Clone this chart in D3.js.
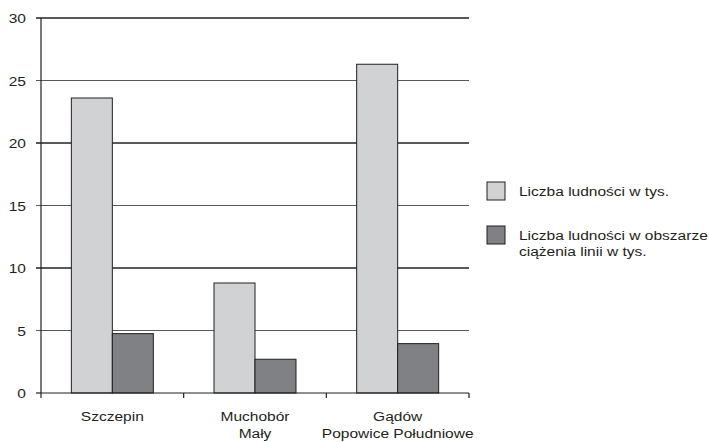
<!DOCTYPE html>
<html><head><meta charset="utf-8">
<script src="https://cdn.jsdelivr.net/npm/d3@7"></script>
<style>html,body{margin:0;padding:0;background:#fff;}svg{display:block;}</style>
</head><body>
<svg id="c" width="709" height="442"></svg>
<script>
const categories = [["Szczepin"], ["Muchobór", "Mały"], ["Gądów", "Popowice Południowe"]];
const seriesNames = [["Liczba ludności w tys."], ["Liczba ludności w obszarze", "ciążenia linii w tys."]];
const populationTotal = [23.6, 8.8, 26.3];
const populationCatchment = [4.75, 2.7, 3.95];
const yTicks = [0, 5, 10, 15, 20, 25, 30];
const colors = ["#d1d2d4", "#808184"];

const svg = d3.select("#c");
const font = "'Liberation Sans', Arial, sans-serif";
const fs = 13.5, sx = 1.15;
const m = {l: 41, r: 469, t: 18, b: 393};

const x = d3.scaleBand().domain(d3.range(categories.length)).range([m.l, m.r]).paddingInner(0).paddingOuter(0);
const x1 = d3.scaleBand().domain([0, 1]).range([0, x.bandwidth()]).paddingOuter(0.74).paddingInner(0);
const y = d3.scaleLinear().domain([0, 30]).range([m.b, m.t]);

function txt(g, str, px, py, anchor) {
  const t = g.append("g").attr("transform", `translate(${px},${py}) scale(${sx},1)`)
    .append("text").attr("font-family", font).attr("font-size", fs).attr("fill", "#231f20")
    .attr("text-anchor", anchor).text(str);
  return t;
}

// gridlines
svg.append("g").selectAll("line").data(yTicks.filter(d => d > 0)).join("line")
  .attr("x1", m.l - 5).attr("x2", m.r).attr("y1", d => y(d)).attr("y2", d => y(d))
  .attr("stroke", "#58595b").attr("stroke-width", 1.2).attr("shape-rendering", "crispEdges");

// bars
const series = [populationTotal, populationCatchment];
series.forEach((vals, si) => {
  svg.append("g").selectAll("rect").data(vals).join("rect")
    .attr("x", (d, i) => x(i) + x1(si))
    .attr("y", d => y(d))
    .attr("width", x1.bandwidth())
    .attr("height", d => y(0) - y(d))
    .attr("fill", colors[si]).attr("stroke", "#231f20").attr("stroke-width", 1);
});

// y axis
svg.append("line").attr("x1", m.l).attr("x2", m.l).attr("y1", m.t).attr("y2", m.b)
  .attr("stroke", "#231f20").attr("stroke-width", 1.2);
svg.append("line").attr("x1", m.l - 5).attr("x2", m.l).attr("y1", m.b).attr("y2", m.b)
  .attr("stroke", "#231f20").attr("stroke-width", 1.2);
const yl = svg.append("g");
yTicks.forEach(d => txt(yl, d, m.l - 15, y(d) + 5, "end"));

// x axis
svg.append("line").attr("x1", m.l).attr("x2", m.r).attr("y1", m.b).attr("y2", m.b)
  .attr("stroke", "#231f20").attr("stroke-width", 1.2);
const xt = d3.range(categories.length + 1).map(i => i < categories.length ? x(i) : m.r);
svg.append("g").selectAll("line").data(xt).join("line")
  .attr("x1", d => d).attr("x2", d => d).attr("y1", m.b).attr("y2", m.b + 5)
  .attr("stroke", "#231f20").attr("stroke-width", 1.2);
const xl = svg.append("g");
categories.forEach((lines, i) => {
  lines.forEach((s, j) => txt(xl, s, x(i) + x.bandwidth() / 2, 421 + j * 17, "middle"));
});

// legend
const lg = svg.append("g");
const ly = [182, 226];
seriesNames.forEach((lines, i) => {
  lg.append("rect").attr("x", 487).attr("y", ly[i]).attr("width", 18).attr("height", 18)
    .attr("fill", colors[i]).attr("stroke", "#231f20").attr("stroke-width", 1);
  lines.forEach((s, j) => txt(lg, s, 519, ly[i] + 14 + j * 16, "start"));
});
</script>
</body></html>
